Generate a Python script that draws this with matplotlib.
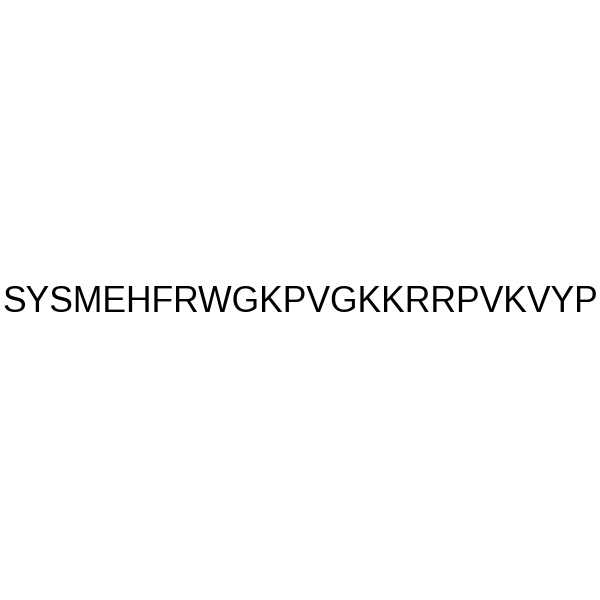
import matplotlib
matplotlib.use("Agg")
import matplotlib.pyplot as plt

sequence = "SYSMEHFRWGKPVGKKRRPVKVYP"

fig = plt.figure(figsize=(6, 6), dpi=100)
fig.patch.set_facecolor("white")
fig.text(0.5, (600 - 311.5) / 600, sequence, ha="center", va="baseline",
         fontsize=25.6, family="Liberation Sans", color="black")
fig.savefig("out.png", dpi=100, facecolor="white")
